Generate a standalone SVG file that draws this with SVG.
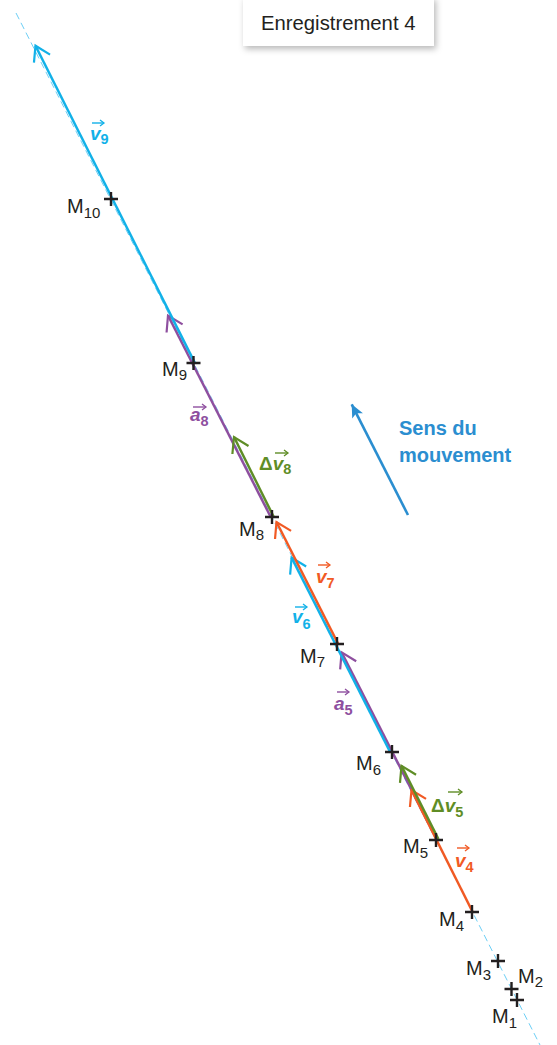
<svg xmlns="http://www.w3.org/2000/svg" width="557" height="1045" viewBox="0 0 557 1045">
<defs>
<style>
.cross{fill:none;stroke:#231f20;stroke-width:2.4}
.ml{font-family:"Liberation Sans",Arial,sans-serif;font-size:20px;fill:#231f20}
.sub{font-size:15px}
.vl{font-family:"Liberation Sans",Arial,sans-serif;font-size:19px;font-weight:bold;font-style:italic}
.vs{font-size:14.5px;font-style:normal}
.vec{fill:none;stroke-width:2.5}
.la{fill:none;stroke-width:1.4}
.cy{stroke:#12b1e8}.cyf{fill:#12b1e8}
.or{stroke:#f15a24}.orf{fill:#f15a24}
.pu{stroke:#8e4f9f}.puf{fill:#8e4f9f}
.gr{stroke:#5f8d26}.grf{fill:#5f8d26}
</style>
<filter id="sh" x="-10%" y="-20%" width="125%" height="160%">
<feDropShadow dx="2" dy="3" stdDeviation="3" flood-color="#000" flood-opacity="0.28"/>
</filter>
<marker id="hcy" markerUnits="userSpaceOnUse" viewBox="-20 -12 24 24" markerWidth="24" markerHeight="24" refX="0" refY="0" orient="auto"><path d="M-14.5,-9 L0,0 L-14.5,9" fill="none" stroke="#12b1e8" stroke-width="2.2"/></marker>
<marker id="hor" markerUnits="userSpaceOnUse" viewBox="-20 -12 24 24" markerWidth="24" markerHeight="24" refX="0" refY="0" orient="auto"><path d="M-14.5,-9 L0,0 L-14.5,9" fill="none" stroke="#f15a24" stroke-width="2.2"/></marker>
<marker id="hpu" markerUnits="userSpaceOnUse" viewBox="-20 -12 24 24" markerWidth="24" markerHeight="24" refX="0" refY="0" orient="auto"><path d="M-14.5,-9 L0,0 L-14.5,9" fill="none" stroke="#8e4f9f" stroke-width="2.2"/></marker>
<marker id="hgr" markerUnits="userSpaceOnUse" viewBox="-20 -12 24 24" markerWidth="24" markerHeight="24" refX="0" refY="0" orient="auto"><path d="M-14.5,-9 L0,0 L-14.5,9" fill="none" stroke="#5f8d26" stroke-width="2.2"/></marker>
<marker id="scy" markerUnits="userSpaceOnUse" viewBox="-6 -5 8 10" markerWidth="8" markerHeight="10" refX="0" refY="0" orient="auto"><path d="M-4,-3 L0,0 L-4,3" fill="none" stroke="#12b1e8" stroke-width="1.3"/></marker>
<marker id="sor" markerUnits="userSpaceOnUse" viewBox="-6 -5 8 10" markerWidth="8" markerHeight="10" refX="0" refY="0" orient="auto"><path d="M-4,-3 L0,0 L-4,3" fill="none" stroke="#f15a24" stroke-width="1.3"/></marker>
<marker id="spu" markerUnits="userSpaceOnUse" viewBox="-6 -5 8 10" markerWidth="8" markerHeight="10" refX="0" refY="0" orient="auto"><path d="M-4,-3 L0,0 L-4,3" fill="none" stroke="#8e4f9f" stroke-width="1.3"/></marker>
<marker id="sgr" markerUnits="userSpaceOnUse" viewBox="-6 -5 8 10" markerWidth="8" markerHeight="10" refX="0" refY="0" orient="auto"><path d="M-4,-3 L0,0 L-4,3" fill="none" stroke="#5f8d26" stroke-width="1.3"/></marker>
<marker id="sens" markerUnits="userSpaceOnUse" viewBox="-16 -8 18 16" markerWidth="18" markerHeight="16" refX="0" refY="0" orient="auto"><path d="M0,0 L-13,-6 L-10,0 L-13,6 Z" fill="#2b8ed0"/></marker>
<path id="cr" d="M-7,0 H7 M0,-7 V7"/>
</defs>

<g id="title">
<rect x="243" y="-3" width="191" height="49" fill="#fff" filter="url(#sh)"/>
<text x="261" y="30" font-family="'Liberation Sans',Arial,sans-serif" font-size="20.3" fill="#231f20">Enregistrement 4</text>
</g>

<g id="connectors">
<line id="trajectory" x1="16" y1="13" x2="540" y2="1045" stroke="#6dcff6" stroke-width="1" stroke-dasharray="7 4"/>
<line id="a8" class="vec pu" x1="271" y1="517.5" x2="168" y2="315.5" marker-end="url(#hpu)"/>
<line id="v9" class="vec cy" x1="194.7" y1="362.6" x2="35.5" y2="45.7" marker-end="url(#hcy)"/>
<line id="dv8" class="vec gr" x1="273.5" y1="516.5" x2="234" y2="437" marker-end="url(#hgr)"/>
<line id="a5" class="vec pu" x1="436.8" y1="839.4" x2="341.6" y2="652.4" marker-end="url(#hpu)"/>
<line id="v6" class="vec cy" x1="390.5" y1="752.8" x2="291.6" y2="557.6" marker-end="url(#hcy)"/>
<line id="v7" class="vec or" x1="338" y1="643.5" x2="276.5" y2="522" marker-end="url(#hor)"/>
<line id="v4" class="vec or" x1="472.5" y1="911.7" x2="411.5" y2="790" marker-end="url(#hor)"/>
<line id="dv5" class="vec gr" x1="438.4" y1="839" x2="401.5" y2="765.8" marker-end="url(#hgr)"/>
<line id="sens-arrow" x1="408" y1="515" x2="351.7" y2="404.3" stroke="#2b8ed0" stroke-width="2.6" marker-end="url(#sens)"/>
</g>

<g id="M1"><use href="#cr" class="cross" x="517" y="1000"/><text class="ml" x="492" y="1023">M<tspan class="sub" dy="5">1</tspan></text></g>
<g id="M2"><use href="#cr" class="cross" x="511.5" y="989"/><text class="ml" x="518" y="983">M<tspan class="sub" dy="4">2</tspan></text></g>
<g id="M3"><use href="#cr" class="cross" x="498" y="961"/><text class="ml" x="466" y="975">M<tspan class="sub" dy="5">3</tspan></text></g>
<g id="M4"><use href="#cr" class="cross" x="472" y="912"/><text class="ml" x="439" y="926">M<tspan class="sub" dy="5">4</tspan></text></g>
<g id="M5"><use href="#cr" class="cross" x="436" y="840"/><text class="ml" x="403" y="853">M<tspan class="sub" dy="5">5</tspan></text></g>
<g id="M6"><use href="#cr" class="cross" x="392" y="752"/><text class="ml" x="356" y="770">M<tspan class="sub" dy="5">6</tspan></text></g>
<g id="M7"><use href="#cr" class="cross" x="337" y="644"/><text class="ml" x="300" y="663">M<tspan class="sub" dy="4">7</tspan></text></g>
<g id="M8"><use href="#cr" class="cross" x="272" y="517"/><text class="ml" x="239" y="536">M<tspan class="sub" dy="4">8</tspan></text></g>
<g id="M9"><use href="#cr" class="cross" x="193.5" y="363"/><text class="ml" x="162" y="376">M<tspan class="sub" dy="4">9</tspan></text></g>
<g id="M10"><use href="#cr" class="cross" x="111" y="199"/><text class="ml" x="67" y="213">M<tspan class="sub" dy="5">10</tspan></text></g>

<g id="labels">
<g id="lbl-v9"><text class="vl cyf" x="90" y="140">v<tspan class="vs" dy="4">9</tspan></text><line class="la cy" x1="92" y1="123" x2="104" y2="123" marker-end="url(#scy)"/></g>
<g id="lbl-a8"><text class="vl puf" x="190" y="421">a<tspan class="vs" dy="5">8</tspan></text><line class="la pu" x1="193" y1="407" x2="206" y2="407" marker-end="url(#spu)"/></g>
<g id="lbl-dv8"><text class="vl grf" x="259" y="470"><tspan font-style="normal">Δ</tspan>v<tspan class="vs" dy="4">8</tspan></text><line class="la gr" x1="275" y1="453" x2="288" y2="453" marker-end="url(#sgr)"/></g>
<g id="lbl-v7"><text class="vl orf" x="316" y="583">v<tspan class="vs" dy="5">7</tspan></text><line class="la or" x1="318" y1="565" x2="330" y2="565" marker-end="url(#sor)"/></g>
<g id="lbl-v6"><text class="vl cyf" x="292" y="623">v<tspan class="vs" dy="6">6</tspan></text><line class="la cy" x1="295" y1="607" x2="307" y2="607" marker-end="url(#scy)"/></g>
<g id="lbl-a5"><text class="vl puf" x="334" y="710">a<tspan class="vs" dy="5">5</tspan></text><line class="la pu" x1="337" y1="692" x2="349" y2="692" marker-end="url(#spu)"/></g>
<g id="lbl-dv5"><text class="vl grf" x="431" y="812"><tspan font-style="normal">Δ</tspan>v<tspan class="vs" dy="5">5</tspan></text><line class="la gr" x1="448" y1="792" x2="462" y2="792" marker-end="url(#sgr)"/></g>
<g id="lbl-v4"><text class="vl orf" x="455" y="867">v<tspan class="vs" dy="5">4</tspan></text><line class="la or" x1="457" y1="848" x2="469" y2="848" marker-end="url(#sor)"/></g>
<g id="lbl-sens"><text font-family="'Liberation Sans',Arial,sans-serif" font-size="20" font-weight="bold" fill="#2b8ed0"><tspan x="399" y="435">Sens du</tspan><tspan x="399" y="462">mouvement</tspan></text></g>
</g>
</svg>
